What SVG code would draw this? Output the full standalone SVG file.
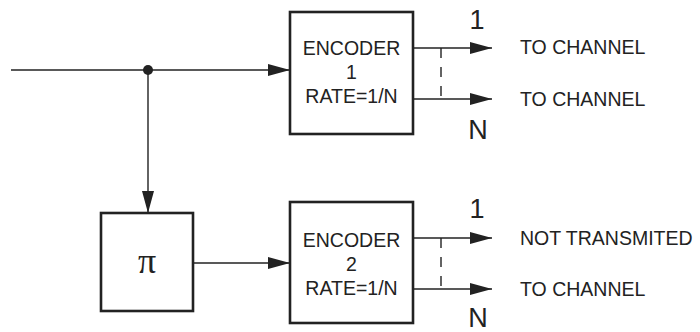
<svg xmlns="http://www.w3.org/2000/svg" width="700" height="332" viewBox="0 0 700 332">
<defs>
<marker id="ah" viewBox="0 0 22 12" refX="22" refY="6" markerWidth="22" markerHeight="12" markerUnits="userSpaceOnUse" orient="auto">
<path d="M0,0 L22,6 L0,12 Z" fill="#222"/>
</marker>
<style>
.box{fill:#fff;stroke:#222;stroke-width:2.6}
.ln{fill:none;stroke:#222;stroke-width:1.4}
.ds{fill:none;stroke:#222;stroke-width:1.4;stroke-dasharray:10 9}
.t{font-family:"Liberation Sans",Arial,sans-serif;font-size:19.5px;fill:#222}
.c{text-anchor:middle}
.big{font-family:"Liberation Sans",Arial,sans-serif;font-size:27px;fill:#222;text-anchor:middle}
.pi{font-family:"Liberation Serif","DejaVu Serif",serif;font-size:36px;fill:#222;text-anchor:middle}
</style>
</defs>
<rect width="700" height="332" fill="#fff"/>
<g id="connectors">
<line class="ln" x1="11" y1="70" x2="290" y2="70" marker-end="url(#ah)"/>
<line class="ln" x1="148" y1="70" x2="148" y2="213" marker-end="url(#ah)"/>
<line class="ln" x1="193" y1="263" x2="290" y2="263" marker-end="url(#ah)"/>
<line class="ln" x1="413" y1="48" x2="492" y2="48" marker-end="url(#ah)"/>
<line class="ln" x1="413" y1="99" x2="492" y2="99" marker-end="url(#ah)"/>
<line class="ds" x1="441" y1="48" x2="441" y2="99"/>
<line class="ln" x1="413" y1="238" x2="492" y2="238" marker-end="url(#ah)"/>
<line class="ln" x1="413" y1="289" x2="492" y2="289" marker-end="url(#ah)"/>
<line class="ds" x1="441" y1="238" x2="441" y2="289"/>
<circle cx="148" cy="70" r="5" fill="#222"/>
</g>
<g id="encoder1">
<rect class="box" x="290" y="12" width="123" height="122"/>
<text class="t c" x="351.5" y="55">ENCODER</text>
<text class="t c" x="351.5" y="79">1</text>
<text class="t c" x="351.5" y="103">RATE=1/N</text>
</g>
<g id="interleaver">
<rect class="box" x="101" y="213" width="92" height="98"/>
<text class="pi" x="147" y="273">π</text>
</g>
<g id="encoder2">
<rect class="box" x="290" y="202" width="123" height="121"/>
<text class="t c" x="351.5" y="247">ENCODER</text>
<text class="t c" x="351.5" y="271">2</text>
<text class="t c" x="351.5" y="295">RATE=1/N</text>
</g>
<g id="labels">
<text class="big" x="477" y="29">1</text>
<text class="big" x="478" y="139">N</text>
<text class="big" x="477" y="218">1</text>
<text class="big" x="478" y="327" font-size="26">N</text>
<text class="t" x="520" y="54">TO CHANNEL</text>
<text class="t" x="520" y="106">TO CHANNEL</text>
<text class="t" x="520" y="245">NOT TRANSMITED</text>
<text class="t" x="520" y="296">TO CHANNEL</text>
</g>
</svg>
